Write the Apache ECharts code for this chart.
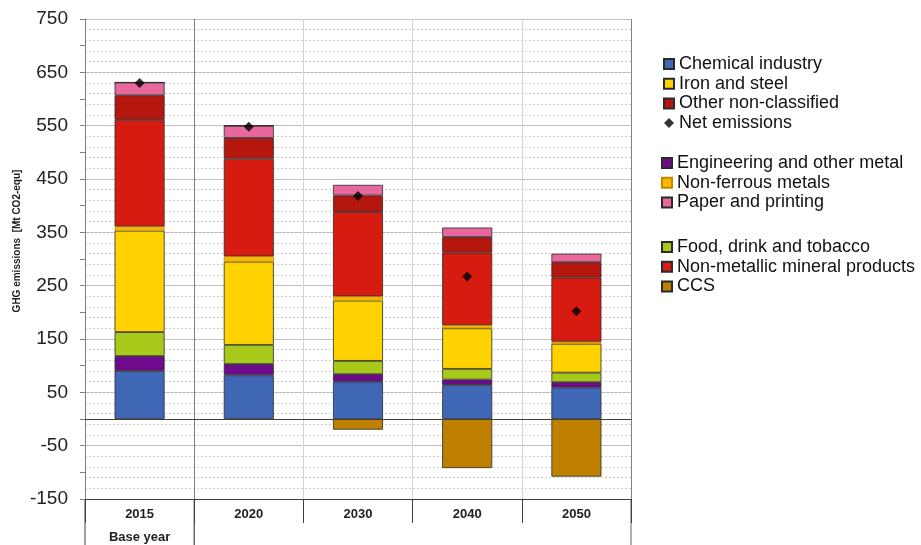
<!DOCTYPE html>
<html>
<head>
<meta charset="utf-8">
<script src="https://cdn.jsdelivr.net/npm/echarts@6/dist/echarts.min.js"></script>
<style>
html,body{margin:0;padding:0;background:#fff;}
#c{width:921px;height:545px;}
</style>
</head>
<body>
<div id="c"></div>
<script>
var categories = ['2015', '2020', '2030', '2040', '2050'];
var chemical    = [90, 82, 70, 64, 59];
var engineering = [28, 21, 14, 10, 10];
var food        = [45, 36, 25, 20, 18];
var ironSteel   = [190, 156, 113, 76, 54];
var nonFerrous  = [8, 10, 8, 6, 4];
var nonMetallic = [200, 183, 158, 136, 120];
var otherNC     = [46, 39, 31, 29, 29];
var paper       = [24, 23, 20, 18, 16];
var ccs         = [0, 0, -20, -92, -108];
var netEmissions = [630, 548, 418, 267, 202];
var yTickLabels = ['-150', '-50', '50', '150', '250', '350', '450', '550', '650', '750'];

var FONT = "'Liberation Sans', Arial, sans-serif";
var chart = echarts.init(document.getElementById('c'));

function barSeries(name, data, color) {
  return {
    name: name, type: 'bar', stack: 'total', data: data, barWidth: 50,
    yAxisIndex: 0,
    itemStyle: { color: color, borderColor: '#2a2a2a', borderWidth: 0.8 },
    emphasis: { disabled: true }
  };
}

var series = [
  barSeries('Chemical industry', chemical, '#3F67B5'),
  barSeries('Engineering and other metal', engineering, '#6E0A8C'),
  barSeries('Food, drink and tobacco', food, '#A8C81A'),
  barSeries('Iron and steel', ironSteel, '#FFD200'),
  barSeries('Non-ferrous metals', nonFerrous, '#FFB800'),
  barSeries('Non-metallic mineral products', nonMetallic, '#D81B10'),
  barSeries('Other non-classified', otherNC, '#B5170F'),
  barSeries('Paper and printing', paper, '#E8679C'),
  barSeries('CCS', ccs, '#BF8000'),
  {
    name: 'Net emissions', type: 'scatter', data: netEmissions, yAxisIndex: 0,
    symbol: 'diamond', symbolSize: 10, itemStyle: { color: '#000' }, z: 5,
    emphasis: { disabled: true }
  }
];
series[4].itemStyle.borderColor = '#c08a00';
series[8].markLine = {
  silent: true, symbol: 'none', label: { show: false },
  lineStyle: { color: '#404040', width: 1, type: 'solid' },
  data: [{ yAxis: 0 }]
};

var legendText = { fontSize: 18, lineHeight: 18, color: '#111', fontFamily: FONT };
function legend(data, left, top) {
  return {
    orient: 'vertical', left: left, top: top, padding: 0, icon: 'rect',
    itemWidth: 10, itemHeight: 10, itemGap: 1.7, selectedMode: false,
    textStyle: legendText, data: data
  };
}

var option = {
  animation: false,
  textStyle: { fontFamily: FONT },
  grid: { left: 85, right: 290, top: 19, bottom: 46, containLabel: false },
  legend: [
    legend(['Chemical industry', 'Iron and steel', 'Other non-classified', { name: 'Net emissions', icon: 'diamond' }], 663, 55),
    legend(['Engineering and other metal', 'Non-ferrous metals', 'Paper and printing'], 661, 154),
    legend(['Food, drink and tobacco', 'Non-metallic mineral products', 'CCS'], 661, 238)
  ],
  xAxis: {
    type: 'category', data: categories, position: 'bottom',
    axisLine: { onZero: false, lineStyle: { color: '#404040', width: 1 } },
    axisTick: { show: true, interval: 0, length: 24, lineStyle: { color: '#404040' } },
    axisLabel: {
      interval: 0, margin: 4,
      formatter: function (v, i) {
        return i === 0 ? '{a|' + v + '}\n{a|Base year}' : '{a|' + v + '}';
      },
      rich: { a: { fontSize: 13, fontWeight: 'bold', color: '#222', lineHeight: 23, fontFamily: FONT } }
    },
    splitLine: {
      show: true, interval: 0,
      lineStyle: { color: ['#808080', '#808080', '#d4d4d4', '#d4d4d4', '#d4d4d4', '#808080'], width: 1 }
    }
  },
  yAxis: [
    {
      type: 'value', min: -150, max: 750, interval: 50,
      axisLine: { show: true, lineStyle: { color: '#808080' } },
      axisTick: { show: true, length: 5, lineStyle: { color: '#808080' } },
      axisLabel: {
        margin: 17, fontSize: 19, color: '#222', fontFamily: FONT,
        formatter: function (v) {
          var s = String(v);
          return yTickLabels.indexOf(s) >= 0 ? s : '';
        }
      },
      splitLine: { show: true, lineStyle: { color: ['#b4b4b4', 'transparent'], width: 1 } }
    },
    {
      type: 'value', min: -150, max: 750, interval: 10,
      axisLine: { show: false }, axisTick: { show: false }, axisLabel: { show: false },
      splitLine: { show: true, lineStyle: { color: ['#cfcfcf', 'transparent'], width: 1, type: [2, 2] } }
    }
  ],
  graphic: [
    { type: 'text', x: 17, y: 241, rotation: Math.PI / 2,
      style: { text: 'GHG emissions  [Mt CO2-equ]', fontSize: 10, fontWeight: 'bold', fill: '#222',
               fontFamily: FONT, align: 'center', verticalAlign: 'middle' } },
    { type: 'line', shape: { x1: 85, y1: 499, x2: 85, y2: 545 }, style: { stroke: '#404040', lineWidth: 1 } },
    { type: 'line', shape: { x1: 194.2, y1: 499, x2: 194.2, y2: 545 }, style: { stroke: '#202020', lineWidth: 1 } },
    { type: 'line', shape: { x1: 631, y1: 499, x2: 631, y2: 545 }, style: { stroke: '#606060', lineWidth: 1 } }
  ],
  series: series
};
chart.setOption(option);
</script>
</body>
</html>
